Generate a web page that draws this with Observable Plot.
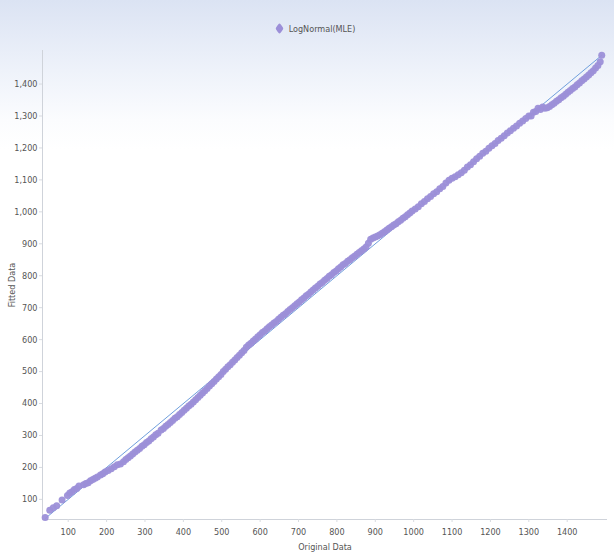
<!DOCTYPE html>
<html>
<head>
<meta charset="utf-8">
<script src="https://cdn.jsdelivr.net/npm/d3@7"></script>
<script src="https://cdn.jsdelivr.net/npm/@observablehq/plot@0.6"></script>
<style>
  html, body { margin: 0; padding: 0; background: #fff; }
  #wrap {
    width: 614px; height: 556px; position: relative; overflow: hidden;
    background: linear-gradient(to bottom, #dbe3f3 0px, #eef2fa 70px, #fbfcfe 120px, #ffffff 150px);
    font-family: "DejaVu Sans", sans-serif; font-stretch: condensed;
  }
  #legend {
    height: 45px; display: flex; align-items: flex-start; justify-content: center;
    padding-left: 16px; box-sizing: border-box;
  }
  #legend .item { margin-top: 23px; display: flex; align-items: center; font-size: 9px; color: #555; }
  #legend .sw { width: 9px; height: 11px; margin-right: 5px; }
  svg { display: block; }
  svg text { font-stretch: condensed; }
</style>
</head>
<body>
<div id="wrap">
  <div id="legend"></div>
  <div id="chart"></div>
</div>
<script>
const seriesName = "LogNormal(MLE)";
const xLabel = "Original Data";
const yLabel = "Fitted Data";
const xTicks = [100, 200, 300, 400, 500, 600, 700, 800, 900, 1000, 1100, 1200, 1300, 1400];
const yTicks = [100, 200, 300, 400, 500, 600, 700, 800, 900, 1000, 1100, 1200, 1300, 1400];

const original = [
  40, 52, 61, 70, 84, 98, 104, 110, 116, 122, 128, 140, 146, 152, 158, 164, 170, 176, 184, 190, 196, 204, 212, 220, 228,
  236, 244, 250, 256, 262, 268, 274, 280, 286, 292, 298, 304, 310, 316, 322, 328, 334,
  342, 348, 354, 360, 366, 372, 378, 384, 390, 396, 402, 408, 414, 420,
  426, 432, 438, 444, 450, 456, 462, 468, 474, 480, 486, 492, 498,
  504, 510, 516, 522, 528, 534, 540, 546, 552, 558,
  564, 570, 576, 582, 588, 594, 600, 606, 612, 618, 624, 630, 636, 642, 648, 654, 660, 666, 672, 678, 684, 690, 696,
  702, 708, 714, 720, 726, 732, 738, 744, 750, 756, 762, 768, 774, 780, 786, 792, 798, 804, 810, 816,
  822, 828, 834, 840, 846, 852, 858, 864, 870, 876, 882, 888, 894, 900,
  906, 912, 918, 924, 930, 936, 942, 948, 954, 960, 966, 972, 978, 984, 990, 996,
  1004, 1012, 1020, 1028, 1036, 1044, 1052, 1060, 1068, 1076, 1084, 1092, 1100, 1108, 1116, 1124, 1132, 1140, 1148,
  1156, 1164, 1172, 1180, 1188, 1196, 1204, 1212, 1220, 1228, 1236, 1244, 1252, 1260, 1268, 1276, 1284, 1292, 1300,
  1306, 1312, 1318, 1324, 1330, 1336, 1342,
  1348, 1354, 1360, 1366, 1372, 1378, 1384, 1390, 1396, 1402, 1408, 1414, 1420, 1426, 1432, 1438, 1444, 1450, 1456,
  1462, 1468, 1474, 1480, 1486, 1490
];
const fitted = [
  43, 66, 74, 80, 98, 112, 120, 124, 131, 134, 142, 146, 150, 152, 158, 162, 166, 170, 176, 180, 186, 190, 196, 202, 208,
  211, 218, 225, 230, 236, 242, 248, 254, 259, 266, 271, 278, 283, 290, 295, 302, 307,
  317, 322, 329, 334, 341, 347, 354, 359, 366, 372, 379, 385, 392, 398,
  405, 412, 419, 426, 433, 440, 447, 455, 462, 469, 477, 484, 491,
  500, 507, 515, 521, 529, 536, 544, 551, 559, 566,
  576, 583, 589, 596, 602, 609, 615, 622, 627, 634, 640, 646, 652, 657, 664, 670, 676, 681, 688, 694, 700, 706, 712,
  718, 725, 730, 737, 742, 749, 755, 762, 767, 774, 779, 786, 791, 798, 803, 810, 815, 822, 827, 834,
  838, 845, 850, 856, 861, 867, 873, 878, 884, 890, 902, 914, 918, 921,
  924, 928, 933, 938, 943, 949, 953, 959, 963, 969, 974, 980, 985, 991, 996, 1003,
  1009, 1016, 1025, 1032, 1041, 1048, 1057, 1063, 1072, 1079, 1090, 1099, 1105, 1110, 1116, 1122, 1130, 1140, 1147,
  1157, 1166, 1174, 1183, 1190, 1199, 1207, 1214, 1223, 1230, 1238, 1247, 1254, 1262, 1269, 1277, 1284, 1292, 1300,
  1300, 1312, 1314, 1324, 1320, 1328, 1324,
  1326, 1330, 1335, 1340, 1346, 1351, 1357, 1362, 1368, 1374, 1380, 1386, 1391, 1398, 1403, 1410, 1416, 1422, 1428,
  1435, 1442, 1450, 1458, 1470, 1490
];
const refLine = [40, 1490];

const pointColor = "#9c8fd8";
const lineColor = "#6f9fdc";

const points = original.map((o, i) => ({original: o, fitted: fitted[i]}));
const diag = refLine.map(v => ({original: v, fitted: v}));

// legend
const leg = document.getElementById("legend");
leg.innerHTML = `<div class="item"><svg class="sw" viewBox="0 0 10 12"><path d="M5 0.5 Q6 0.5 8.8 5 Q9.5 6 8.8 7 Q6 11.5 5 11.5 Q4 11.5 1.2 7 Q0.5 6 1.2 5 Q4 0.5 5 0.5Z" fill="${pointColor}"/></svg><span>${seriesName}</span></div>`;

const fontFam = "'DejaVu Sans', sans-serif";

const chart = Plot.plot({
  width: 614,
  height: 511,
  marginTop: 5,
  marginLeft: 42,
  marginRight: 7,
  marginBottom: 37,
  style: {background: "transparent", fontFamily: fontFam, fontSize: "9px", color: "#555"},
  x: {domain: [33, 1505]},
  y: {domain: [37, 1505]},
  marks: [
    Plot.ruleX([33], {stroke: "#cfd3da"}),
    Plot.ruleY([37], {stroke: "#cfd3da"}),
    Plot.axisX({ticks: xTicks, tickFormat: d3.format("d"), tickSize: 3, tickPadding: 6, stroke: "#d8dbe0",
      label: xLabel, labelAnchor: "center", labelArrow: "none", labelOffset: 30, fontSize: 9}),
    Plot.axisY({ticks: yTicks, tickFormat: d3.format(",d"), tickSize: 3, tickPadding: 2, stroke: "#d8dbe0",
      label: yLabel, labelAnchor: "center", labelArrow: "none", labelOffset: 34, fontSize: 9}),
    Plot.line(diag, {x: "original", y: "fitted", stroke: lineColor, strokeWidth: 1}),
    Plot.dot(points, {x: "original", y: "fitted", r: 3.5, fill: pointColor, stroke: "none", fillOpacity: 0.95})
  ]
});
document.getElementById("chart").appendChild(chart);
</script>
</body>
</html>
